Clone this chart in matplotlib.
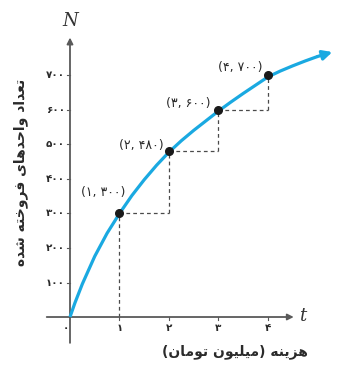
import numpy as np
import matplotlib
matplotlib.use("Agg")
import matplotlib.pyplot as plt

# data
points_t = [1, 2, 3, 4]
points_n = [300, 480, 600, 700]
point_labels = ["(۱, ۳۰۰)", "(۲, ۴۸۰)", "(۳, ۶۰۰)", "(۴, ۷۰۰)"]

curve_t = [0, 0.1, 0.25, 0.5, 0.75, 1, 1.25, 1.5, 1.75, 2, 2.25, 2.5, 2.75, 3,
           3.25, 3.5, 3.75, 4, 4.25, 4.5, 4.75, 5, 5.3]
curve_n = [0, 41, 96, 176, 243, 300, 352, 398, 440, 478, 511, 541, 569, 597,
           623, 648, 672, 696, 713, 728, 742, 755, 768]

x_ticks = [1, 2, 3, 4]
x_tick_labels = ["۱", "۲", "۳", "۴"]
y_ticks = [100, 200, 300, 400, 500, 600, 700]
y_tick_labels = ["۱۰۰", "۲۰۰", "۳۰۰", "۴۰۰", "۵۰۰", "۶۰۰", "۷۰۰"]

x_title = "هزینه (میلیون تومان)"
y_title = "تعداد واحدهای فروخته شده"

# minimal Persian shaping (matplotlib draws no contextual forms, no RTL)
FORMS = {
    "ا": ("\uFE8D", "\uFE8E", None, None),
    "ت": ("\uFE95", "\uFE96", "\uFE97", "\uFE98"),
    "ح": ("\uFEA1", "\uFEA2", "\uFEA3", "\uFEA4"),
    "خ": ("\uFEA5", "\uFEA6", "\uFEA7", "\uFEA8"),
    "د": ("\uFEA9", "\uFEAA", None, None),
    "ر": ("\uFEAD", "\uFEAE", None, None),
    "ز": ("\uFEAF", "\uFEB0", None, None),
    "ش": ("\uFEB5", "\uFEB6", "\uFEB7", "\uFEB8"),
    "ع": ("\uFEC9", "\uFECA", "\uFECB", "\uFECC"),
    "ف": ("\uFED1", "\uFED2", "\uFED3", "\uFED4"),
    "ل": ("\uFEDD", "\uFEDE", "\uFEDF", "\uFEE0"),
    "م": ("\uFEE1", "\uFEE2", "\uFEE3", "\uFEE4"),
    "ن": ("\uFEE5", "\uFEE6", "\uFEE7", "\uFEE8"),
    "ه": ("\uFEE9", "\uFEEA", "\uFEEB", "\uFEEC"),
    "و": ("\uFEED", "\uFEEE", None, None),
    "ی": ("\uFBFC", "\uFBFD", "\uFBFE", "\uFBFF"),
}


def joins_next(c):
    return c in FORMS and FORMS[c][2] is not None


def shape(text):
    out = []
    for i, c in enumerate(text):
        if c not in FORMS:
            out.append(c)
            continue
        prev = text[i - 1] if i > 0 else ""
        nxt = text[i + 1] if i + 1 < len(text) else ""
        from_prev = joins_next(prev)
        to_next = joins_next(c) and nxt in FORMS
        iso, fin, ini, med = FORMS[c]
        if from_prev and to_next:
            out.append(med)
        elif from_prev:
            out.append(fin)
        elif to_next:
            out.append(ini)
        else:
            out.append(iso)
    vis = "".join(reversed(out))
    return vis.translate(str.maketrans("()", ")("))


plt.rcParams['font.family'] = ['DejaVu Sans']

fig = plt.figure(figsize=(3.52, 3.68), dpi=100)
ax = fig.add_axes([0, 0, 1, 1])
ax.set_xlim(-1.414, 5.697)
ax.set_ylim(-147.8, 918.8)
ax.axis('off')

axis_col = '#5a5a5a'
txt_col = '#2a2a2a'
# axes with arrows
ax.annotate('', xy=(4.52, 0), xytext=(-0.47, 0),
            arrowprops=dict(arrowstyle='-|>', color=axis_col, lw=1.3, mutation_scale=9,
                            shrinkA=0, shrinkB=0))
ax.annotate('', xy=(0, 810), xytext=(0, -75),
            arrowprops=dict(arrowstyle='-|>', color=axis_col, lw=1.3, mutation_scale=9,
                            shrinkA=0, shrinkB=0))
ax.text(4.62, 4, 't', fontsize=13, family='DejaVu Serif', style='italic',
        ha='left', va='center', color='#333333')
ax.text(0, 858, 'N', fontsize=13, family='DejaVu Serif', style='italic',
        ha='center', va='center', color='#333333')

# ticks
for t, lab in zip(x_ticks, x_tick_labels):
    ax.plot([t, t], [0, -8], color=axis_col, lw=0.8)
    ax.text(t, -18, lab, fontsize=7.5, fontweight='bold', ha='center', va='top', color=txt_col)
ax.text(-0.08, -18, "۰", fontsize=7.5, fontweight='bold', ha='center', va='top', color=txt_col)
for n, lab in zip(y_ticks, y_tick_labels):
    ax.plot([-0.07, 0], [n, n], color=axis_col, lw=0.8)
    ax.text(-0.1, n, lab, fontsize=7.5, fontweight='bold', ha='right', va='center', color=txt_col)

# dashed guides
dash = dict(color='#4a4a4a', lw=0.9, ls=(0, (3, 2.5)))
ax.plot([1, 1], [0, points_n[0]], **dash)
for i in range(len(points_t) - 1):
    ax.plot([points_t[i], points_t[i + 1]], [points_n[i], points_n[i]], **dash)
    ax.plot([points_t[i + 1], points_t[i + 1]], [points_n[i], points_n[i + 1]], **dash)

# curve with arrow head
curve_col = '#1aa9e1'
ax.plot(curve_t[:-1], curve_n[:-1], color=curve_col, lw=2.3, solid_joinstyle='round',
        solid_capstyle='butt', zorder=3)
ax.annotate('', xy=(curve_t[-1], curve_n[-1]), xytext=(curve_t[-2], curve_n[-2]),
            arrowprops=dict(arrowstyle='-|>', color=curve_col, lw=2.3, mutation_scale=14,
                            shrinkA=0, shrinkB=0), zorder=3)

ax.scatter(points_t, points_n, s=30, color='#1a1a1a', zorder=4)
label_off = [(-0.33, 62), (-0.55, 16), (-0.62, 20), (-0.57, 22)]
for t, n, lab, (dx, dy) in zip(points_t, points_n, point_labels, label_off):
    ax.text(t + dx, n + dy, lab, fontsize=9, ha='center', va='center', color=txt_col)

ax.text(-0.99, 420, shape(y_title), rotation=90, fontsize=10, fontweight='bold',
        ha='center', va='center', color=txt_col)
ax.text(3.33, -101, shape(x_title), fontsize=10, fontweight='bold',
        ha='center', va='center', color=txt_col)

fig.savefig('out.png', dpi=100)
